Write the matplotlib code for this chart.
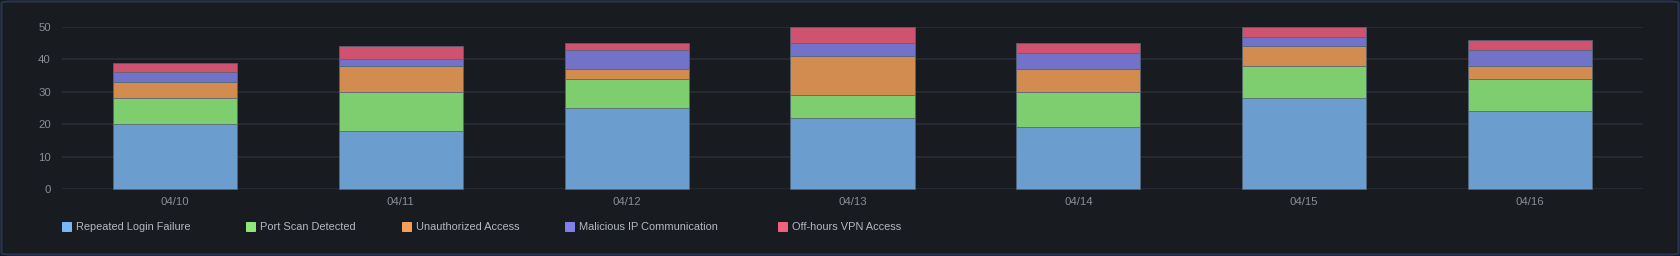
import matplotlib
matplotlib.use("Agg")
import matplotlib.pyplot as plt
from matplotlib.patches import FancyBboxPatch
import numpy as np

plt.rcParams["font.family"] = ["Liberation Sans", "DejaVu Sans"]

# daily alert counts per category
dates = ["04/10", "04/11", "04/12", "04/13", "04/14", "04/15", "04/16"]
login_failure = [20, 18, 25, 22, 19, 28, 24]
port_scan = [8, 12, 9, 7, 11, 10, 10]
unauthorized = [5, 8, 3, 12, 7, 6, 4]
malicious_ip = [3, 2, 6, 4, 5, 3, 5]
vpn_offhours = [3, 4, 2, 5, 3, 3, 3]

series_names = ["Repeated Login Failure", "Port Scan Detected", "Unauthorized Access",
                "Malicious IP Communication", "Off-hours VPN Access"]
bar_colors = ["#6b9ecf", "#7ecd6e", "#d38c50", "#7172c8", "#cf5270"]
key_colors = ["#7ab8f5", "#8ee77a", "#f5a05a", "#8080ec", "#f0607f"]
key_x = [62, 246, 402, 565, 778]

BG = "#181b20"
GRID = "#2a2d33"
TICK = "#8a8e96"

W, H = 1680, 256
fig = plt.figure(figsize=(W / 100, H / 100), dpi=100)
fig.patch.set_facecolor(BG)

# rounded card border
card = FancyBboxPatch((1.5 / W, 1.5 / H), 1 - 3 / W, 1 - 3 / H,
                      boxstyle="round,pad=0,rounding_size=0.006",
                      transform=fig.transFigure, facecolor=BG,
                      edgecolor="#2a3350", linewidth=1.5, zorder=-5)
fig.patches.append(card)

ax = fig.add_axes([62 / W, 1 - 189 / H, (1643 - 62) / W, (189 - 27) / H])
ax.set_zorder(2)
ax.patch.set_alpha(0)

x = np.arange(len(dates))
bottom = np.zeros(len(dates))
for vals, col in zip([login_failure, port_scan, unauthorized, malicious_ip, vpn_offhours], bar_colors):
    ax.bar(x, vals, width=0.55, bottom=bottom, color=col, edgecolor="#56687a",
           linewidth=0.5, zorder=3, clip_on=False)
    bottom += np.array(vals)

ax.set_xlim(-0.5, len(dates) - 0.5)
ax.set_ylim(0, 50)
ax.set_yticks([0, 10, 20, 30, 40, 50])
ax.set_xticks(x)
ax.set_xticklabels(dates)
ax.yaxis.grid(True, color=GRID, linewidth=1.2, zorder=0)
ax.xaxis.grid(False)
ax.set_axisbelow(True)
ax.tick_params(axis="both", length=0, colors=TICK, labelsize=8.2)
ax.tick_params(axis="y", pad=8)
ax.tick_params(axis="x", pad=6)
for s in ax.spines.values():
    s.set_visible(False)

# legend row
for name, col, px in zip(series_names, key_colors, key_x):
    sq = FancyBboxPatch((px / W, 1 - 232 / H), 10 / W, 10 / H,
                        boxstyle="round,pad=0,rounding_size=0.0012",
                        transform=fig.transFigure, facecolor=col,
                        edgecolor="none", zorder=2)
    fig.patches.append(sq)
    fig.text((px + 14) / W, 1 - 227 / H, name, color="#b4b8c0",
             fontsize=7.9, va="center", ha="left")

fig.savefig("out.png", dpi=100, facecolor=BG)
